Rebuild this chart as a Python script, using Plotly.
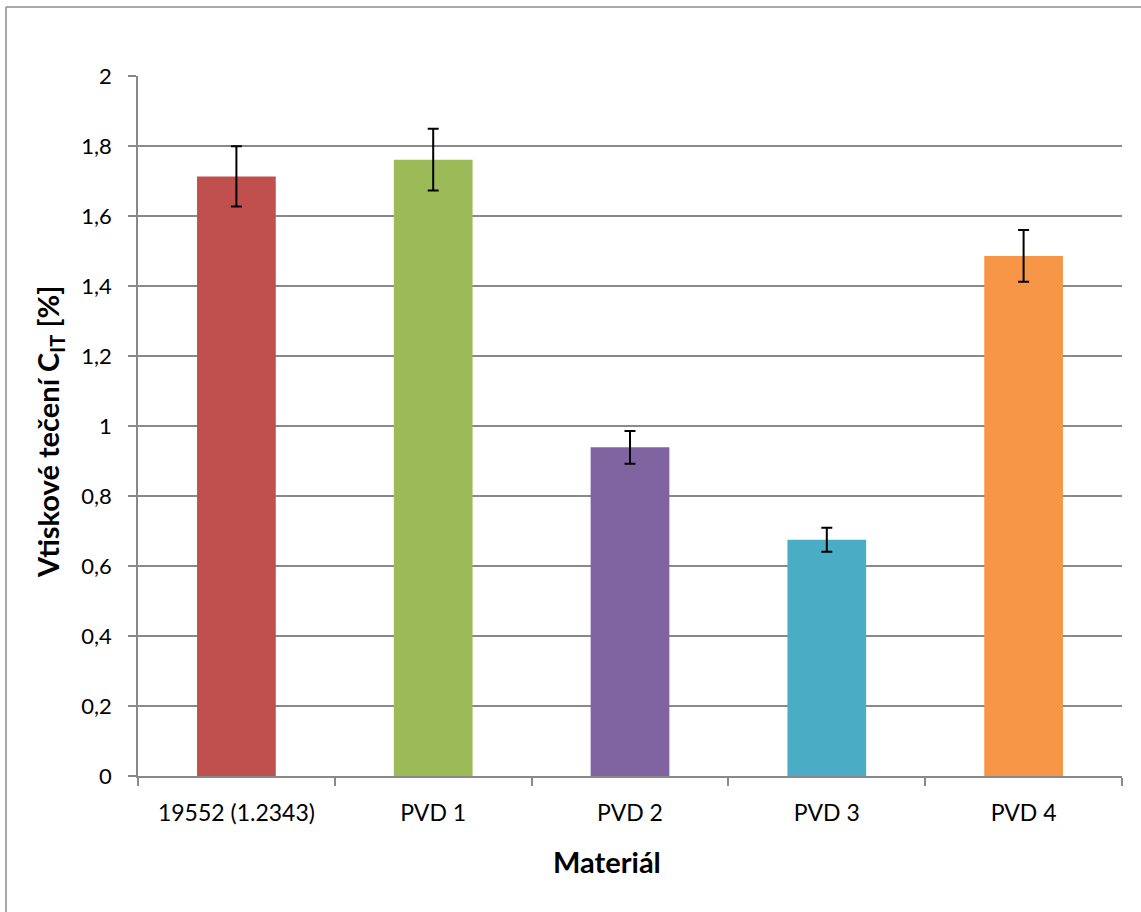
import plotly.graph_objects as go

categories = ["19552 (1.2343)", "PVD 1", "PVD 2", "PVD 3", "PVD 4"]
values = [1.713, 1.761, 0.939, 0.675, 1.486]
errors = [0.086, 0.088, 0.047, 0.034, 0.074]
colors = ["#C0504D", "#9BBB59", "#8064A2", "#4BACC6", "#F79646"]
y_ticks = [0, 0.2, 0.4, 0.6, 0.8, 1, 1.2, 1.4, 1.6, 1.8, 2]
y_tick_labels = ["0", "0,2", "0,4", "0,6", "0,8", "1", "1,2", "1,4", "1,6", "1,8", "2"]

FONT = "Lato"
GRID = "#898989"

fig = go.Figure()
fig.add_trace(go.Bar(
    x=categories, y=values,
    marker=dict(color=colors, line=dict(width=0)),
    error_y=dict(type="data", array=errors, visible=True, color="black",
                 thickness=2, width=5.5),
    showlegend=False,
))

W, H = 1141, 912
L, R, T, B = 138, 19, 76, 136
pw = W - L - R
ph = H - T - B


def px_x(v):
    return (v - L) / pw


def px_y(v):
    return (H - v - B) / ph


fig.update_layout(
    width=W, height=H,
    margin=dict(l=L, r=R, t=T, b=B, autoexpand=False),
    paper_bgcolor="white", plot_bgcolor="white",
    bargap=0.6,
    font=dict(family=FONT, size=22, color="black"),
    xaxis=dict(
        showline=True, linecolor=GRID, linewidth=1.5,
        ticks="outside", ticklen=8, tickcolor=GRID, tickwidth=1.5,
        tickson="boundaries", showgrid=False,
        tickfont=dict(family=FONT, size=23, color="black"),
        ticklabelstandoff=16,
        automargin=False,
    ),
    yaxis=dict(
        range=[0, 2], tickvals=y_ticks, ticktext=y_tick_labels,
        showline=True, linecolor=GRID, linewidth=1.5,
        ticks="outside", ticklen=8, tickcolor=GRID, tickwidth=1.5,
        showgrid=True, gridcolor=GRID, gridwidth=1.5,
        zeroline=False,
        tickfont=dict(family=FONT, size=22, color="black"),
        ticklabelstandoff=12,
        automargin=False,
    ),
    annotations=[
        dict(text="<b>Materiál</b>", xref="paper", yref="paper",
             x=px_x(607), y=px_y(861), showarrow=False,
             font=dict(family=FONT, size=29, color="black"),
             xanchor="center", yanchor="middle"),
        dict(text="<b>Vtiskové tečení C<sub>IT</sub> [%]</b>", xref="paper", yref="paper",
             x=px_x(49), y=px_y(432), showarrow=False, textangle=-90,
             font=dict(family=FONT, size=29, color="black"),
             xanchor="center", yanchor="middle"),
    ],
    shapes=[
        dict(type="line", xref="paper", yref="paper",
             x0=px_x(6), x1=px_x(1141), y0=px_y(7), y1=px_y(7),
             line=dict(color="#8C8C8C", width=1.5), layer="below"),
        dict(type="line", xref="paper", yref="paper",
             x0=px_x(6), x1=px_x(6), y0=px_y(7), y1=px_y(912),
             line=dict(color="#8C8C8C", width=1.5), layer="below"),
    ],
)

fig.write_html("out.html", config={"displayModeBar": False},
               post_script="document.body.style.margin='0';")
